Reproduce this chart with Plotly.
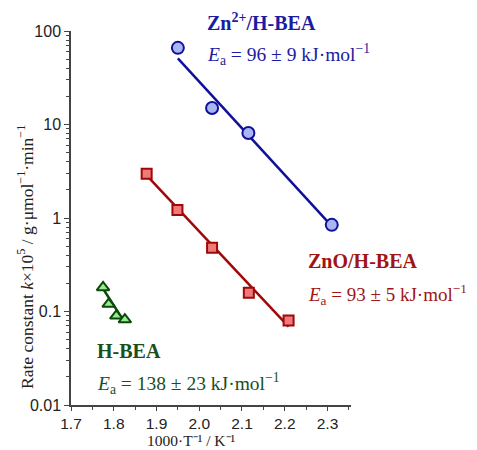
import plotly.graph_objects as go

# Data
zn2_x = [1.95, 2.03, 2.115, 2.31]
zn2_k = [66, 15, 8.1, 0.845]
zn2_fit_x = [1.95, 2.31]
zn2_fit_k = [51, 0.82]

zno_x = [1.877, 1.949, 2.030, 2.116, 2.209]
zno_k = [2.97, 1.22, 0.48, 0.159, 0.080]
zno_fit_x = [1.877, 2.209]
zno_fit_k = [2.85, 0.069]

hbea_x = [1.775, 1.788, 1.806, 1.826]
hbea_k = [0.181, 0.120, 0.090, 0.082]
hbea_fit_x = [1.775, 1.826]
hbea_fit_k = [0.175, 0.076]

y_tickvals = [0.01, 0.1, 1, 10, 100]
y_ticktext = ["0.01", "0.1", "1", "10", "100"]
y_minorvals = [m * d for d in [0.01, 0.1, 1, 10] for m in range(2, 10)]
x_tickvals = [1.7, 1.8, 1.9, 2.0, 2.1, 2.2, 2.3]
x_ticktext = ["1.7", "1.8", "1.9", "2.0", "2.1", "2.2", "2.3"]

BLUE_LINE = "#10109a"
BLUE_FILL = "#a8b6f4"
RED_LINE = "#a00808"
RED_FILL = "#f07a7a"
GREEN_LINE = "#0c4a0c"
GREEN_FILL = "#98ec90"

SERIF = "Liberation Serif, Times New Roman, serif"
SANS = "Liberation Sans, Arial, sans-serif"

fig = go.Figure()

def add_series(x, k, fx, fk, lc, fc, symbol, size):
    fig.add_trace(go.Scatter(x=fx, y=fk, mode="lines",
                             line=dict(color=lc, width=2.5), showlegend=False,
                             hoverinfo="skip"))
    fig.add_trace(go.Scatter(x=x, y=k, mode="markers",
                             marker=dict(symbol=symbol, size=size, color=fc,
                                         line=dict(color=lc, width=2)),
                             showlegend=False, cliponaxis=False))

add_series(zn2_x, zn2_k, zn2_fit_x, zn2_fit_k, BLUE_LINE, BLUE_FILL, "circle", 12)
add_series(zno_x, zno_k, zno_fit_x, zno_fit_k, RED_LINE, RED_FILL, "square", 10)
add_series(hbea_x, hbea_k, hbea_fit_x, hbea_fit_k, GREEN_LINE, GREEN_FILL, "triangle-up", 11)

def label(x, y, text, color, size, bold=False, xanchor="left", angle=0, yanchor="middle"):
    t = f"<b>{text}</b>" if bold else text
    fig.add_annotation(x=x, y=y, xref="paper", yref="paper", text=t, showarrow=False,
                       xanchor=xanchor, yanchor=yanchor, textangle=angle,
                       font=dict(family=SERIF, size=size, color=color))

TXT_BLUE = "#1c1ca0"
TXT_RED = "#a01414"
TXT_GREEN = "#1a4f1a"

label(0.478, 1.024, "Zn<sup>2+</sup>/H-BEA", TXT_BLUE, 20, bold=True)
label(0.478, 0.936, "<i>E</i><sub>a</sub> = 96 ± 9 kJ·mol<sup>−1</sup>", TXT_BLUE, 19.5)
label(0.840, 0.3855, "ZnO/H-BEA", TXT_RED, 20, bold=True)
label(0.840, 0.2947, "<i>E</i><sub>a</sub> = 93 ± 5 kJ·mol<sup>−1</sup>", TXT_RED, 19)
label(0.086, 0.145, "H-BEA", TXT_GREEN, 20, bold=True)
label(0.086, 0.0569, "<i>E</i><sub>a</sub> = 138 ± 23 kJ·mol<sup>−1</sup>", TXT_GREEN, 19.5)

# axis titles
label(-0.164, 0.396, "Rate constant <i>k</i>×10<sup>5</sup> / g·μmol<sup>−1</sup>·min<sup>−1</sup>",
      "#222222", 17.5, xanchor="center", angle=-90)
label(0.430, -0.094, "1000·T⁻¹ / K⁻¹", "#222222", 15.5, xanchor="center")

AX = "#444444"
fig.update_xaxes(range=[1.7, 2.355], tickvals=x_tickvals, ticktext=x_ticktext,
                 ticks="outside", ticklen=4, tickwidth=1.2, tickcolor=AX,
                 minor=dict(tickmode="linear", dtick=0.05, tick0=1.7, ticks="outside",
                            ticklen=3, tickcolor=AX, showgrid=False),
                 showline=True, linecolor=AX, linewidth=1.5, showgrid=False, zeroline=False,
                 automargin=False,
                 tickfont=dict(family=SANS, size=15.5, color="#222222"))
fig.update_yaxes(type="log", range=[-2, 2], tickvals=y_tickvals, ticktext=y_ticktext,
                 ticks="outside", ticklen=5, tickwidth=1.2, tickcolor=AX,
                 minor=dict(tickmode="array", tickvals=y_minorvals, ticks="outside",
                            ticklen=3, tickcolor=AX, showgrid=False),
                 showline=True, linecolor=AX, linewidth=1.5, showgrid=False, zeroline=False,
                 automargin=False,
                 tickfont=dict(family=SANS, size=16, color="#222222"))

# page body has an 8px margin, so the figure is made 8px smaller and shifted
fig.update_layout(width=469, height=442, plot_bgcolor="white", paper_bgcolor="white",
                  margin=dict(l=63, r=126, t=23, b=44.7, autoexpand=False), showlegend=False)

fig.write_html("out.html")
